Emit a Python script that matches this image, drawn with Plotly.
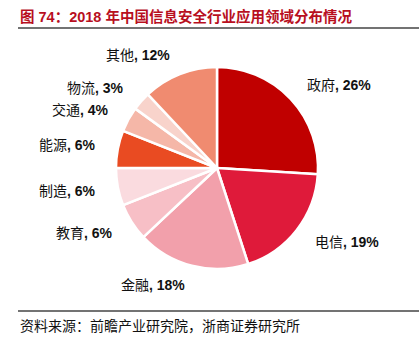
import math
import plotly.graph_objects as go

# 2018 China information-security market by application sector (%)
sectors = ["政府", "电信", "金融", "教育", "制造", "能源", "交通", "物流", "其他"]
shares = [26, 19, 18, 6, 6, 6, 4, 3, 12]
colors = ["#C00000", "#DF1A3A", "#F2A0AB", "#F7BFC6", "#FADBDF",
          "#E94B22", "#F5B7A8", "#F8D3CB", "#F08B70"]

title_text = "图 74：2018 年中国信息安全行业应用领域分布情况"
source_text = "资料来源：前瞻产业研究院，浙商证券研究所"

W, H = 419, 347
cx, cy = 217, 168          # pie centre in pixels (from top-left)
r = 101                    # pie radius in pixels
label_r = 121              # distance of label anchor from centre

fig = go.Figure(go.Pie(
    labels=sectors,
    values=shares,
    sort=False,
    direction="clockwise",
    rotation=0,
    marker=dict(colors=colors, line=dict(color="white", width=2.5)),
    textinfo="none",
    hoverinfo="label+percent",
    showlegend=False,
    domain=dict(x=[(cx - r) / W, (cx + r) / W],
                y=[(H - cy - r) / H, (H - cy + r) / H]),
))

# outside labels placed at each slice's mid-angle
annotations = []
total = sum(shares)
cum = 0
for name, v in zip(sectors, shares):
    mid = (cum + v / 2) / total * 2 * math.pi
    cum += v
    sx, cyv = math.sin(mid), math.cos(mid)
    px = cx + label_r * sx
    py = (H - cy) + label_r * cyv
    annotations.append(dict(
        x=px / W, y=py / H, xref="paper", yref="paper",
        text=f"{name}<b>, {v}%</b>",
        showarrow=False,
        xanchor="left" if sx > 0.05 else ("right" if sx < -0.05 else "center"),
        yanchor="middle",
        font=dict(size=14, color="#111111",
                  family="Liberation Sans, Noto Sans CJK SC"),
    ))

annotations.append(dict(
    x=18 / W, y=1 - 16 / H, xref="paper", yref="paper",
    text=f"<b>{title_text}</b>", showarrow=False,
    xanchor="left", yanchor="middle",
    font=dict(size=14.5, color="#B80F1E",
              family="Liberation Sans, Noto Sans CJK SC"),
))
annotations.append(dict(
    x=18 / W, y=1 - 325 / H, xref="paper", yref="paper",
    text=source_text, showarrow=False,
    xanchor="left", yanchor="middle",
    font=dict(size=14, color="#111111", family="Noto Sans CJK SC"),
))

shapes = [
    dict(type="line", xref="paper", yref="paper",
         x0=18 / W, x1=1, y0=1 - 28 / H, y1=1 - 28 / H,
         line=dict(color="#444444", width=1.5)),
    dict(type="line", xref="paper", yref="paper",
         x0=18 / W, x1=1, y0=1 - 311 / H, y1=1 - 311 / H,
         line=dict(color="#444444", width=1.5)),
]

fig.update_layout(
    width=W, height=H,
    margin=dict(l=0, r=0, t=0, b=0),
    paper_bgcolor="white", plot_bgcolor="white",
    annotations=annotations, shapes=shapes,
)

fig.write_html("out.html")
